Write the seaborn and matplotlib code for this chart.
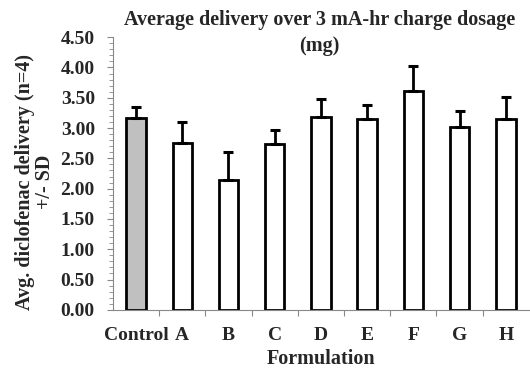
import matplotlib
matplotlib.use("Agg")
import matplotlib.pyplot as plt
import seaborn as sns
import pandas as pd
from matplotlib.ticker import MultipleLocator

categories = ["Control", "A", "B", "C", "D", "E", "F", "G", "H"]
means = [3.16, 2.75, 2.15, 2.73, 3.19, 3.15, 3.61, 3.02, 3.15]
sds = [0.19, 0.35, 0.45, 0.24, 0.29, 0.23, 0.41, 0.26, 0.37]
yticks = [0.0, 0.5, 1.0, 1.5, 2.0, 2.5, 3.0, 3.5, 4.0, 4.5]

sns.set_style("ticks")
plt.rcParams['font.family'] = ['Liberation Serif', 'DejaVu Serif']
plt.rcParams['font.weight'] = 'bold'

df = pd.DataFrame({"Formulation": categories, "value": means})
colors = {c: ("#c0c0c0" if c == "Control" else "white") for c in categories}

fig = plt.figure(figsize=(5.30, 3.68), dpi=100)
ax = fig.add_axes([0.213, 0.158, 0.785, 0.741])

sns.barplot(data=df, x="Formulation", y="value", hue="Formulation", palette=colors,
            order=categories, width=0.42, edgecolor="black", linewidth=2,
            legend=False, ax=ax, errorbar=None)

xs = list(range(len(categories)))
ax.errorbar(xs, means, yerr=[[0] * len(sds), sds], fmt="none", ecolor="black",
            elinewidth=2, capsize=3.5, capthick=2.2)

ax.set_ylim(0, 4.5)
ax.set_xlim(-0.5, len(categories) - 0.5)
ax.set_yticks(yticks)
ax.set_yticklabels([f"{v:.2f}" for v in yticks], fontsize=14, fontweight="bold")
ax.yaxis.set_minor_locator(MultipleLocator(0.1))
ax.tick_params(axis="y", which="major", length=4, color="#888888", width=0.8, pad=9)
ax.tick_params(axis="y", which="minor", length=3, color="#888888", width=0.6)

ax.set_xticks([i + 0.5 for i in range(len(categories) - 1)], minor=True)
ax.set_xticks(xs)
ax.set_xticklabels(categories, fontsize=14, fontweight="bold")
ax.tick_params(axis="x", which="major", length=0, pad=12)
ax.tick_params(axis="x", which="minor", length=4, color="#888888", width=0.8)

for s in ["top", "right"]:
    ax.spines[s].set_visible(False)
for s in ["left", "bottom"]:
    ax.spines[s].set_color("#888888")
    ax.spines[s].set_linewidth(0.8)

ax.set_xlabel("Formulation", fontsize=14.5, fontweight="bold", labelpad=4)
ax.set_ylabel("Avg. diclofenac delivery (n=4)\n+/- SD", fontsize=14.5,
              fontweight="bold", linespacing=1.0)
ax.yaxis.set_label_coords(-0.138, 0.47)
fig.text(0.603, 0.972, "Average delivery over 3 mA-hr charge dosage\n(mg)",
         fontsize=14.5, fontweight="bold", ha="center", va="top", linespacing=1.4)

fig.savefig("out.png", dpi=100)
